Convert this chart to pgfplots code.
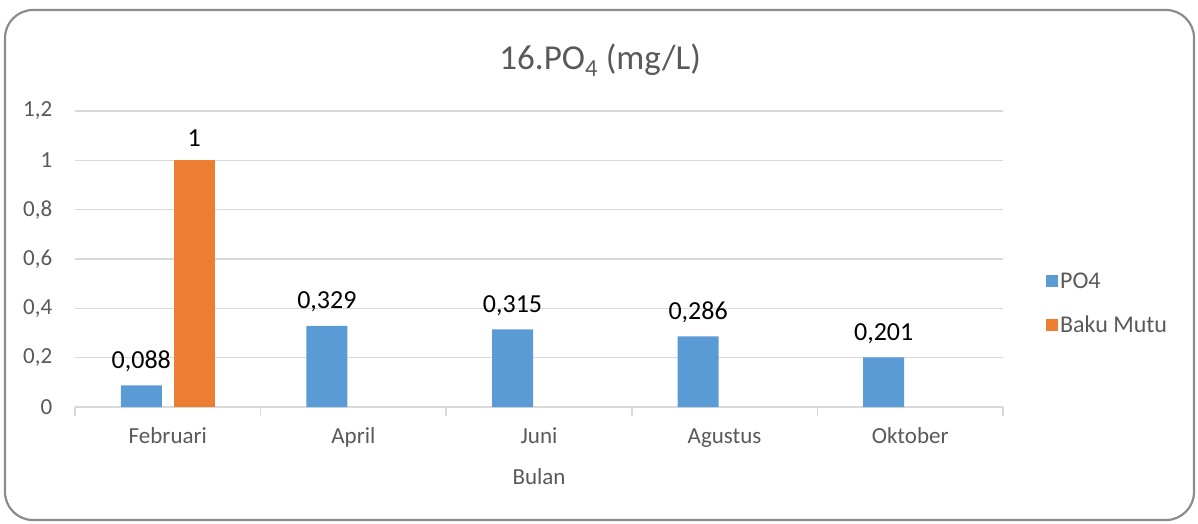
\documentclass[border=0pt]{standalone}
\usepackage{pgfplots}
\pgfplotsset{compat=1.18}
\usepackage{fontspec}
\setmainfont{Carlito}
\definecolor{cblue}{HTML}{5B9BD5}
\definecolor{corange}{HTML}{ED7D31}
\definecolor{cgrid}{HTML}{D9D9D9}
\definecolor{ctext}{HTML}{595959}
\definecolor{cframe}{HTML}{8C8C8C}
\begin{document}
\begin{tikzpicture}
\useasboundingbox (0pt,0pt) rectangle (1198pt,523pt);
\draw[cframe, line width=2.2pt, rounded corners=28pt] (5pt,3pt) rectangle (1194pt,513pt);
\begin{axis}[
  at={(75pt,116pt)}, anchor=south west,
  scale only axis, width=928pt, height=296pt,
  xmin=-0.5, xmax=4.5, ymin=0, ymax=1.2,
  ybar, bar width=41pt,
  xtick={0,1,2,3,4},
  xticklabels={Februari,April,Juni,Agustus,Oktober},
  minor xtick={-0.5,0.5,1.5,2.5,3.5,4.5},
  ytick={0,0.2,0.4,0.6,0.8,1,1.2},
  axis x line*=bottom, axis y line*=left,
  y axis line style={draw=none},
  x axis line style={cgrid, line width=1.5pt},
  ytick style={draw=none},
  major x tick style={draw=none},
  minor x tick style={cgrid, line width=1.5pt},
  tick align=outside, minor tick length=9pt,
  ymajorgrids, grid style={cgrid, line width=1.5pt},
  /pgf/number format/assume math mode=true,
  yticklabel style={/pgf/number format/use comma, /pgf/number format/fixed, font=\fontsize{23}{26}\selectfont, text=ctext, xshift=-15pt},
  xticklabel style={font=\fontsize{23}{26}\selectfont, text=ctext, text height=16pt, text depth=5pt, yshift=-13pt},
  xlabel={Bulan}, xlabel style={font=\fontsize{23}{26}\selectfont, text=ctext, yshift=-13pt},
  title={16.PO\textsubscript{4} (mg/L)},
  title style={at={(0.566,1)}, anchor=south, yshift=25pt, font=\fontsize{35}{40}\selectfont, text=ctext},
  nodes near coords={\pgfmathprintnumber[use comma, fixed, precision=3]{\pgfplotspointmeta}},
  nodes near coords style={font=\fontsize{26}{30}\selectfont, text=black, anchor=south, yshift=10pt},
  legend style={at={(1.043,0.35)}, anchor=west, draw=none, fill=none, font=\fontsize{24}{28}\selectfont, text=ctext, row sep=22pt, legend cell align=left},
  legend image code/.code={\fill[#1, draw=none] (0pt,-6pt) rectangle (12pt,6pt);},
]
\addplot[fill=cblue, draw=none, bar shift=-26.5pt] coordinates {(0,0.088) (1,0.329) (2,0.315) (3,0.286) (4,0.201)};
\addplot[fill=corange, draw=none, bar shift=26.5pt] coordinates {(0,1)};
\legend{PO4, Baku Mutu}
\end{axis}
\end{tikzpicture}
\end{document}
